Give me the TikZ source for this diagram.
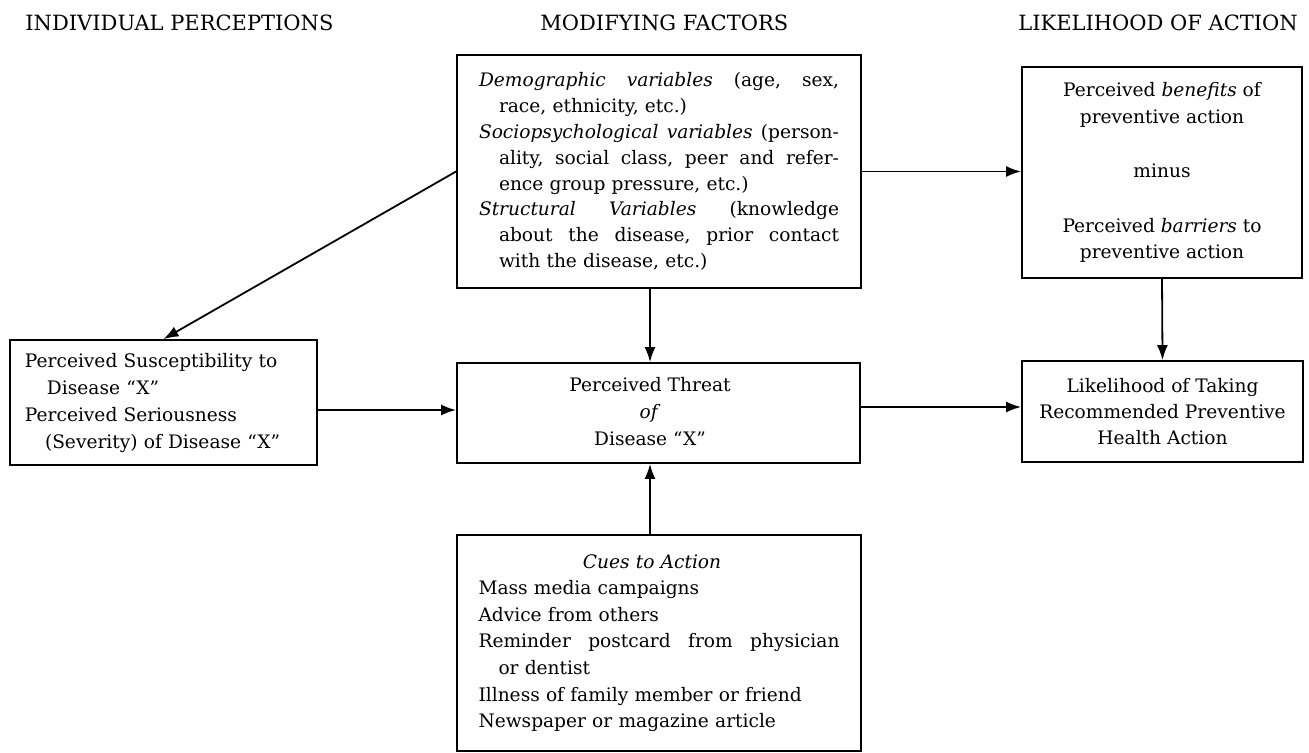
\documentclass[tikz,border=0pt]{standalone}
\usepackage{fontspec}
\setmainfont{DejaVu Serif}
\usetikzlibrary{arrows.meta}
\begin{document}
\begin{tikzpicture}[x=0.5pt,y=-0.5pt,
  box/.style={draw, line width=0.9pt, inner sep=0pt, font=\fontsize{9.3pt}{12.9pt}\selectfont},
  hdr/.style={anchor=west, inner sep=0pt, font=\fontsize{10.5pt}{12pt}\selectfont},
  arr/.style={line width=0.9pt, -{Latex[length=7.5pt,width=5.5pt]}}]
\useasboundingbox (0,0) rectangle (1309,753);
\fill[white] (0,0) rectangle (1309,753);
% headers
\node[hdr] (h1) at (25,23) {INDIVIDUAL PERCEPTIONS};
\node[hdr] (h2) at (540,23) {MODIFYING FACTORS};
\node[hdr] (h3) at (1018,23) {LIKELIHOOD OF ACTION};
% boxes
\node[box, minimum width=202pt, minimum height=116.5pt, text width=180pt, align=left] (mod) at (659,171.5) {%
\makebox[180pt][l]{\textit{Demographic\hfill variables}\hfill(age,\hfill sex,}\\
\hspace*{10pt}race, ethnicity, etc.)\\
\makebox[180pt][l]{\textit{Sociopsychological\hfill variables}\hfill(person-}\\
\hspace*{10pt}\makebox[170pt][l]{ality,\hfill social\hfill class,\hfill peer\hfill and\hfill refer-}\\
\hspace*{10pt}ence group pressure, etc.)\\
\makebox[180pt][l]{\textit{Structural\hfill Variables}\hfill(knowledge}\\
\hspace*{10pt}\makebox[170pt][l]{about\hfill the\hfill disease,\hfill prior\hfill contact}\\
\hspace*{10pt}with the disease, etc.)};
\node[box, minimum width=140pt, minimum height=105.5pt, align=center, font=\fontsize{9.3pt}{13.2pt}\selectfont] (ben) at (1162,172.5) {%
Perceived \textit{benefits} of\\
preventive action\\[14pt]
minus\\[14pt]
Perceived \textit{barriers} to\\
preventive action};
\node[box, minimum width=153.5pt, minimum height=62.5pt, inner xsep=7.5pt, text width=138.5pt, align=left, font=\fontsize{9.3pt}{13.5pt}\selectfont] (perc) at (163.5,402.5) {%
Perceived Susceptibility to\\
\hspace*{11pt}Disease ``X''\\
Perceived Seriousness\\
\hspace*{10pt}(Severity) of Disease ``X''};
\node[box, minimum width=201.5pt, minimum height=50pt, font=\fontsize{9.3pt}{13.4pt}\selectfont] (threat) at (658.5,413) {%
\begin{tabular}{@{}c@{\hspace{8.5pt}}}
Perceived Threat\\
\textit{of}\\
Disease ``X''
\end{tabular}};
\node[box, minimum width=140.5pt, minimum height=50.5pt, align=center] (like) at (1162.5,411.5) {%
Likelihood of Taking\\
Recommended Preventive\\
Health Action};
\node[box, minimum width=202pt, minimum height=108pt, text width=180.5pt, align=left, font=\fontsize{9.3pt}{13.3pt}\selectfont] (cues) at (659,643) {%
\makebox[180.5pt]{\textit{Cues to Action}\hspace{7pt}}\\
Mass media campaigns\\
Advice from others\\
\makebox[180.5pt][l]{Reminder\hfill postcard\hfill from\hfill physician}\\
\hspace*{10pt}or dentist\\
Illness of family member or friend\\
Newspaper or magazine article};
% connectors
\coordinate (cx) at (650,0);
\coordinate (ya) at (0,410);
\coordinate (yb) at (0,407);
\draw[arr] (mod.west) -- (perc.north);
\draw[arr] (mod.south -| cx) -- (threat.north -| cx);
\draw[arr] (cues.north -| cx) -- (threat.south -| cx);
\draw[arr] (perc.east |- ya) -- (threat.west |- ya);
\draw[arr] (threat.east |- yb) -- (like.west |- yb);
\draw[arr] (mod.east) -- (mod.east -| ben.west);
\draw[arr] (ben.south) -- (like.north);
\end{tikzpicture}
\end{document}
